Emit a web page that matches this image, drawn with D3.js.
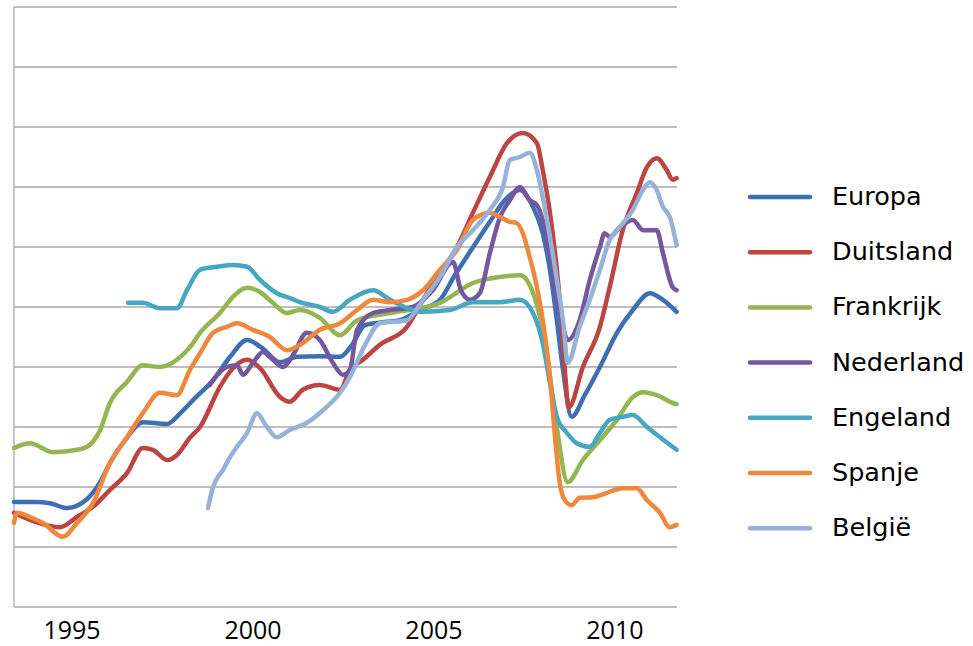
<!DOCTYPE html>
<html>
<head>
<meta charset="utf-8">
<script src="https://cdn.jsdelivr.net/npm/d3@7"></script>
<style>
  html, body { margin: 0; padding: 0; background: #ffffff; }
  svg { display: block; }
</style>
</head>
<body>
<svg id="chart" width="973" height="646"></svg>
<script>
// ---- Data: [year, index value] ----
const europa = [[1993.41,17.5],[1993.99,17.5],[1994.40,17.3],[1994.87,16.5],[1995.43,18.0],[1995.79,20.8],[1996.06,24.0],[1996.48,27.8],[1996.97,30.8],[1997.64,30.5],[1997.99,32.2],[1998.41,34.8],[1998.91,37.8],[1999.38,41.7],[1999.85,44.5],[2000.26,43.2],[2000.76,40.8],[2001.23,41.7],[2001.86,41.8],[2002.42,41.7],[2002.75,43.7],[2003.11,47.0],[2003.66,47.5],[2004.07,47.8],[2004.63,49.5],[2005.18,51.2],[2005.59,55.3],[2006.01,59.2],[2006.56,64.2],[2006.97,67.8],[2007.39,69.5],[2007.75,66.7],[2008.02,62.3],[2008.22,56.2],[2008.41,47.8],[2008.58,39.5],[2008.82,31.7],[2009.18,35.3],[2009.60,40.0],[2010.07,45.7],[2010.51,49.5],[2010.98,52.3],[2011.34,51.2],[2011.72,49.2]];
const duitsland = [[1993.41,15.7],[1993.85,14.5],[1994.68,13.3],[1995.15,15.0],[1995.59,16.7],[1996.06,19.5],[1996.53,22.3],[1996.97,26.5],[1997.25,26.2],[1997.64,24.5],[1997.91,25.3],[1998.27,28.2],[1998.55,30.0],[1999.10,36.7],[1999.46,39.8],[1999.85,41.2],[2000.21,39.8],[2000.76,35.0],[2001.03,34.2],[2001.39,36.2],[2001.86,37.0],[2002.42,36.2],[2002.69,39.5],[2003.05,41.2],[2003.52,43.7],[2004.27,46.7],[2004.71,51.2],[2005.18,55.7],[2005.65,60.0],[2006.09,65.7],[2006.56,71.7],[2007.03,77.3],[2007.47,79.0],[2007.86,77.3],[2008.02,72.8],[2008.22,65.7],[2008.41,56.2],[2008.49,51.2],[2008.63,39.5],[2008.74,33.3],[2009.13,40.0],[2009.60,46.7],[2009.87,53.3],[2010.23,62.8],[2010.62,69.0],[2010.90,73.3],[2011.17,74.8],[2011.45,72.8],[2011.61,71.2],[2011.72,71.5]];
const frankrijk = [[1993.41,26.5],[1993.85,27.3],[1994.49,25.8],[1995.15,26.2],[1995.43,26.7],[1995.79,29.5],[1996.06,34.0],[1996.53,37.5],[1996.97,40.3],[1997.44,40.0],[1997.91,41.2],[1998.27,43.3],[1998.55,45.7],[1999.10,49.0],[1999.46,51.7],[1999.85,53.2],[2000.21,52.5],[2000.56,50.7],[2000.95,49.0],[2001.31,49.5],[2001.86,48.2],[2002.42,45.3],[2002.89,47.8],[2003.80,49.0],[2005.18,50.7],[2006.09,54.0],[2006.84,55.0],[2007.39,55.3],[2007.58,54.5],[2007.86,50.3],[2008.08,44.5],[2008.27,36.2],[2008.41,30.0],[2008.71,20.8],[2009.13,24.5],[2009.60,27.8],[2010.07,31.2],[2010.51,35.0],[2010.79,35.8],[2011.17,35.3],[2011.61,34.0],[2011.72,33.8]];
const nederland = [[1998.82,37.0],[1999.29,40.0],[1999.57,40.3],[1999.74,38.7],[2000.01,40.7],[2000.29,42.5],[2000.56,41.2],[2000.84,40.0],[2001.12,42.0],[2001.50,45.7],[2001.86,44.5],[2002.22,40.7],[2002.50,38.7],[2002.69,39.5],[2002.89,46.2],[2003.33,49.0],[2003.80,49.5],[2004.43,50.0],[2004.98,52.8],[2005.54,57.5],[2005.76,52.8],[2006.01,51.2],[2006.28,52.3],[2006.56,59.0],[2006.84,65.0],[2007.11,67.8],[2007.39,70.0],[2007.66,67.8],[2007.86,67.0],[2008.02,64.5],[2008.22,59.0],[2008.41,51.7],[2008.58,46.7],[2008.71,44.5],[2009.04,47.8],[2009.32,54.5],[2009.60,60.0],[2009.73,62.3],[2009.87,61.7],[2010.15,63.3],[2010.51,64.5],[2010.79,62.8],[2011.17,62.8],[2011.34,59.0],[2011.61,53.3],[2011.72,52.8]];
const engeland = [[1996.56,50.7],[1996.97,50.7],[1997.44,49.8],[1997.91,49.8],[1998.19,52.8],[1998.55,56.2],[1999.02,56.7],[1999.46,57.0],[1999.85,56.7],[2000.21,54.5],[2000.67,52.3],[2001.03,51.5],[2001.31,50.8],[2001.86,50.0],[2002.22,49.2],[2002.69,51.2],[2003.33,52.8],[2003.80,51.2],[2004.71,49.2],[2005.45,49.5],[2006.09,50.8],[2006.84,50.8],[2007.39,51.2],[2007.75,49.0],[2008.02,44.0],[2008.22,37.3],[2008.41,31.7],[2008.69,29.0],[2008.96,27.3],[2009.32,26.7],[2009.60,29.0],[2009.87,31.2],[2010.23,31.7],[2010.51,32.0],[2010.90,30.0],[2011.26,28.3],[2011.72,26.2]];
const spanje = [[1993.41,14.0],[1993.49,15.7],[1993.85,15.0],[1994.21,14.0],[1994.76,11.7],[1995.15,14.0],[1995.59,17.3],[1996.06,24.0],[1996.53,28.3],[1996.97,32.3],[1997.44,35.7],[1997.91,35.3],[1998.27,39.5],[1998.55,42.3],[1998.91,45.7],[1999.29,46.7],[1999.57,47.3],[2000.01,46.2],[2000.48,45.0],[2000.95,42.8],[2001.39,44.0],[2001.86,46.2],[2002.42,47.3],[2002.89,49.5],[2003.33,51.2],[2003.80,50.8],[2004.27,51.2],[2004.71,52.8],[2005.18,56.2],[2005.65,59.5],[2006.09,64.5],[2006.56,65.7],[2006.84,65.0],[2007.11,64.2],[2007.30,64.0],[2007.47,62.3],[2007.66,58.3],[2007.86,53.3],[2008.02,47.8],[2008.22,38.3],[2008.35,29.0],[2008.49,20.7],[2008.63,17.8],[2008.82,17.0],[2009.04,18.2],[2009.40,18.3],[2009.87,19.2],[2010.23,19.8],[2010.62,19.8],[2010.90,17.8],[2011.26,15.7],[2011.53,13.3],[2011.72,13.7]];
const belgie = [[1998.77,16.5],[1998.91,20.0],[1999.18,22.8],[1999.38,25.0],[1999.57,26.7],[1999.85,29.0],[2000.12,32.3],[2000.40,30.0],[2000.67,28.3],[2001.03,29.5],[2001.50,30.7],[2001.95,32.8],[2002.42,35.7],[2002.69,38.3],[2003.11,43.7],[2003.52,47.3],[2004.27,47.8],[2004.71,51.2],[2005.18,55.0],[2005.65,60.0],[2006.09,62.8],[2006.56,66.2],[2006.92,70.0],[2007.11,74.5],[2007.39,75.0],[2007.66,75.7],[2007.86,72.8],[2008.02,68.3],[2008.22,61.7],[2008.41,54.5],[2008.58,47.8],[2008.71,40.7],[2009.04,46.7],[2009.32,51.2],[2009.60,56.2],[2009.87,61.2],[2010.15,63.3],[2010.51,66.2],[2010.79,69.5],[2010.98,70.8],[2011.17,69.5],[2011.34,66.7],[2011.53,65.0],[2011.72,60.3]];

const seriesNames = ["Europa","Duitsland","Frankrijk","Nederland","Engeland","Spanje","België"];
const seriesData = [europa, duitsland, frankrijk, nederland, engeland, spanje, belgie];
const seriesColors = ["#3F6FB3","#BC4542","#93B652","#74579E","#45A7C1","#EF883D","#97B2D8"];
const xTicks = [1995, 2000, 2005, 2010];
const yTicks = [0,10,20,30,40,50,60,70,80,90,100];
const xDomain = [1993.41, 2011.73];
const yDomain = [0, 100];

// ---- Layout ----
const svg = d3.select("#chart");
const plot = {left: 14, right: 677, top: 7, bottom: 607};

const x = d3.scaleLinear().domain(xDomain).range([plot.left, plot.right]);
const y = d3.scaleLinear().domain(yDomain).range([plot.bottom, plot.top]);

// Gridlines
svg.append("g")
  .selectAll("line")
  .data(yTicks)
  .join("line")
  .attr("x1", plot.left).attr("x2", plot.right)
  .attr("y1", d => y(d)).attr("y2", d => y(d))
  .attr("stroke", "#A9A9A9").attr("stroke-width", 1.3);

// Left axis line
svg.append("line")
  .attr("x1", plot.left).attr("x2", plot.left)
  .attr("y1", y(yDomain[1])).attr("y2", y(yDomain[0]))
  .attr("stroke", "#A9A9A9").attr("stroke-width", 1.3);

// X axis labels
const xAxis = d3.axisBottom(x).tickValues(xTicks).tickSize(0).tickPadding(0).tickFormat(d3.format("d"));
const gx = svg.append("g").attr("transform", `translate(0,${plot.bottom})`).call(xAxis);
gx.select(".domain").remove();
gx.selectAll("text")
  .attr("y", 32).attr("dy", 0)
  .attr("font-family", "'Open Sans', sans-serif")
  .attr("font-size", 25)
  .attr("fill", "#000");

// Lines
const line = d3.line()
  .x(d => x(d[0]))
  .y(d => y(d[1]))
  .curve(d3.curveMonotoneX);

svg.append("g")
  .selectAll("path")
  .data(seriesData)
  .join("path")
  .attr("d", d => line(d))
  .attr("fill", "none")
  .attr("stroke", (d, i) => seriesColors[i])
  .attr("stroke-width", 4.5)
  .attr("stroke-linejoin", "round")
  .attr("stroke-linecap", "round");

// Legend
const legend = svg.append("g").attr("transform", "translate(748,197)");
const items = legend.selectAll("g")
  .data(seriesNames)
  .join("g")
  .attr("transform", (d, i) => `translate(0,${i * 55.2})`);
items.append("line")
  .attr("x1", 2).attr("x2", 62).attr("y1", 0).attr("y2", 0)
  .attr("stroke", (d, i) => seriesColors[i])
  .attr("stroke-width", 4.5)
  .attr("stroke-linecap", "round");
items.append("text")
  .attr("x", 84).attr("y", 8)
  .attr("font-family", "'DejaVu Sans', sans-serif")
  .attr("font-size", 25.5)
  .attr("fill", "#000")
  .text(d => d);
</script>
</body>
</html>
